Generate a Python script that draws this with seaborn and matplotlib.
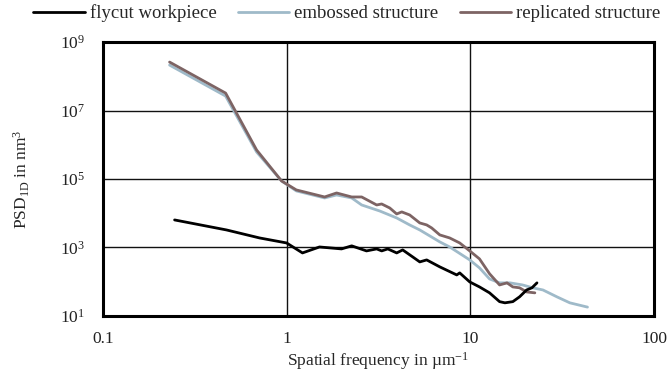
import numpy as np
import pandas as pd
import seaborn as sns
import matplotlib.pyplot as plt
from matplotlib.ticker import NullLocator, FixedLocator, FixedFormatter

sns.set_style('white')
plt.rcParams['font.family'] = ['Liberation Serif', 'DejaVu Serif']
plt.rcParams['mathtext.fontset'] = 'custom'
plt.rcParams['mathtext.rm'] = 'Liberation Serif'
plt.rcParams['mathtext.it'] = 'Liberation Serif:italic'

# data (spatial frequency in 1/um, PSD in nm^3)
fly_x = [0.246, 0.471, 0.713, 1.0, 1.22, 1.51, 1.99, 2.26, 2.72, 3.09, 3.29, 3.55, 3.97, 4.28,
         4.85, 5.30, 5.78, 6.81, 8.42, 8.74, 9.91, 11.2, 12.7, 14.4, 15.4, 17.0, 18.5, 20.2, 21.6, 23.0]
fly_y = [6350, 3240, 1890, 1350, 690, 1030, 904, 1110, 790, 904, 790, 904, 690, 845,
         528, 377, 431, 270, 157, 180, 98, 70, 47, 26, 24, 26, 36, 57, 66, 92]

emb_x = [0.231, 0.466, 0.687, 0.939, 1.13, 1.61, 1.87, 2.26, 2.56, 3.21, 3.97, 4.67, 5.30,
         6.81, 7.71, 9.91, 11.2, 12.7, 14.4, 16.4, 19.2, 21.8, 24.8, 29.5, 34.7, 43.3]
emb_y = [2.13e8, 2.65e7, 6.14e5, 8.75e4, 4.47e4, 2.79e4, 3.41e4, 2.79e4, 1.74e4, 1.16e4, 7260, 4540, 3240,
         1450, 1030, 431, 252, 120, 92, 92, 80, 66, 57, 36, 24, 18]

rep_x = [0.231, 0.466, 0.687, 0.939, 1.13, 1.61, 1.87, 2.26, 2.56, 3.09, 3.29, 3.64, 3.97, 4.23,
         4.67, 5.30, 5.78, 6.15, 6.81, 7.71, 8.74, 9.91, 11.2, 12.7, 14.4, 15.8, 17.0, 18.5, 20.2, 22.4]
rep_y = [2.61e8, 3.24e7, 7.03e5, 8.75e4, 4.78e4, 2.98e4, 3.90e4, 2.98e4, 2.98e4, 1.74e4, 1.86e4, 1.42e4, 9500, 1.09e4,
         8890, 5190, 4540, 3710, 2320, 1890, 1350, 790, 461, 170, 80, 92, 70, 66, 50, 47]

labels = ['flycut workpiece', 'embossed structure', 'replicated structure']
colors = ['#000000', '#9fbac9', '#7d6464']

fig, ax = plt.subplots(figsize=(6.67, 3.76), dpi=100)
fig.subplots_adjust(left=0.154, right=0.981, top=0.888, bottom=0.160)

# draw order: embossed, replicated, flycut on top
series = [(emb_x, emb_y, 1, 2), (rep_x, rep_y, 2, 3), (fly_x, fly_y, 0, 4)]
for xs, ys, i, z in series:
    df = pd.DataFrame({'x': xs, 'y': ys})
    sns.lineplot(data=df, x='x', y='y', ax=ax, color=colors[i], lw=2.0,
                 estimator=None, sort=False, label=labels[i], zorder=z)

ax.set_xscale('log')
ax.set_yscale('log')
ax.set_xlim(0.1, 100)
ax.set_ylim(10, 1e9)

ax.xaxis.set_major_locator(FixedLocator([0.1, 1, 10, 100]))
ax.xaxis.set_major_formatter(FixedFormatter(['0.1', '1', '10', '100']))
ax.xaxis.set_minor_locator(NullLocator())
ax.yaxis.set_major_locator(FixedLocator([1e1, 1e3, 1e5, 1e7, 1e9]))
ax.yaxis.set_major_formatter(FixedFormatter([r'$\mathdefault{10^{%d}}$' % e for e in [1, 3, 5, 7, 9]]))
ax.yaxis.set_minor_locator(NullLocator())
ax.tick_params(axis='both', length=0, labelsize=12.5, colors='#222222')
ax.tick_params(axis='y', pad=13)
ax.tick_params(axis='x', pad=11)

ax.grid(True, which='major', color='#111111', lw=1.0)
for s in ax.spines.values():
    s.set_color('black')
    s.set_linewidth(2.2)

ax.set_xlabel(r'Spatial frequency in µm$^{\mathdefault{-1}}$', fontsize=12.5, labelpad=2)
ax.set_ylabel(r'PSD$_{\mathdefault{1D}}$ in nm$^{\mathdefault{3}}$', fontsize=12.5, labelpad=20)

h, l = ax.get_legend_handles_labels()
order = [l.index(t) for t in labels]
ax.legend([h[k] for k in order], [l[k] for k in order], loc='center', bbox_to_anchor=(0.52, 0.965),
          bbox_transform=fig.transFigure, ncol=3, frameon=False, fontsize=13.5,
          handlelength=2.75, handletextpad=0.25, columnspacing=1.15)

fig.savefig('out.png', dpi=100)
